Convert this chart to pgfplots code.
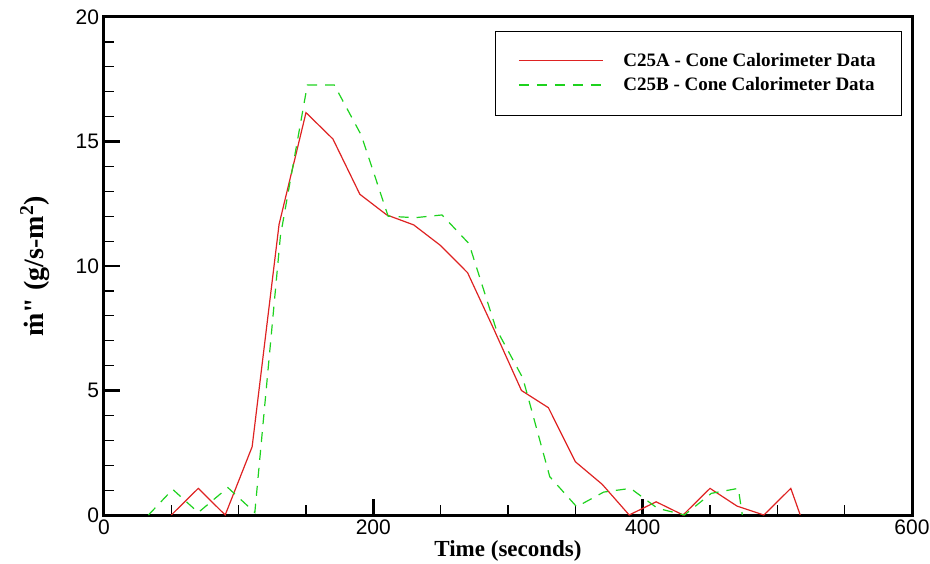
\documentclass[border=0pt]{standalone}
\usepackage{fontspec}
\setmainfont{Liberation Serif}
\newfontfamily\plainserif{Liberation Serif}
\newfontfamily\ticksans{Liberation Sans}
\usepackage{pgfplots}
\pgfplotsset{compat=1.18}

\definecolor{seriesA}{RGB}{222,34,34}
\definecolor{seriesB}{RGB}{30,210,30}

\begin{document}
\begin{tikzpicture}
\begin{axis}[
	scale only axis,
	width=404pt, height=249pt,
	xmin=0, xmax=600, ymin=0, ymax=20,
	xtick={0,200,400,600}, ytick={0,5,10,15,20},
	minor x tick num=3, minor y tick num=4,
	tick align=inside, xtick pos=bottom, ytick pos=left,
	major tick length=8pt, minor tick length=5pt,
	every major tick/.style={black, line width=1.2pt},
	every minor tick/.style={black, line width=0.6pt},
	axis line style={line width=1.5pt},
	/pgf/number format/assume math mode=true,
	tick label style={font=\ticksans\fontsize{10.5}{12}\selectfont},
	xticklabel style={yshift=1pt},
	yticklabel style={xshift=1pt},
	xlabel={\textbf{Time (seconds)}},
	ylabel={\textbf{\.m{\plainserif"} (g/s-m\textsuperscript{2})}},
	xlabel style={font=\fontsize{11.5}{13}\selectfont, yshift=4pt},
	ylabel style={font=\fontsize{14}{16}\selectfont, yshift=6pt},
	legend cell align=left,
	legend style={at={(1,1)}, anchor=north east, xshift=-5pt, yshift=-7pt,
		font=\bfseries\fontsize{9.5}{10.5}\selectfont,
		inner xsep=11pt, inner ysep=9pt, row sep=0pt},
]
\addplot[seriesA, line width=0.6pt,
	legend image code/.code={\draw[seriesA, line width=0.9pt] (0pt,0.5pt) -- (42pt,0.5pt);
		\path (50pt,0pt);}] coordinates {
	(50,0) (70,1.07) (90,0) (110,2.74) (130,11.67) (150,16.16) (170,15.1)
	(190,12.88) (210,12.05) (230,11.65) (250,10.82) (270,9.73) (290,7.4)
	(310,5.0) (330,4.31) (350,2.14) (370,1.23) (390,0) (410,0.53) (430,0)
	(450,1.07) (470,0.36) (490,0) (510,1.07) (517,0)};
\addlegendentry{C25A - Cone Calorimeter Data}
\addplot[seriesB, line width=0.6pt, dash pattern=on 5pt off 4pt,
	legend image code/.code={\draw[seriesB, line width=0.9pt,
		dash pattern=on 5pt off 4pt] (0pt,0.5pt) -- (42pt,0.5pt);
		\path (50pt,0pt);}] coordinates {
	(33,0) (51,1.03) (70,0.1) (92,1.1) (112,0.1) (131,11.2) (151,17.27)
	(171,17.27) (191,15.26) (211,12.0) (231,11.94) (251,12.05) (271,10.9)
	(291,7.5) (311,5.5) (331,1.54) (351,0.33) (371,0.92) (391,1.07)
	(411,0.27) (431,0) (451,0.87) (471,1.07) (474,0)};
\addlegendentry{C25B - Cone Calorimeter Data}
\end{axis}
\pgfresetboundingbox
\path[use as bounding box] ([xshift=-52pt,yshift=-24pt]current axis.south west)
	rectangle ([xshift=9pt,yshift=8.5pt]current axis.north east);
\end{tikzpicture}
\end{document}
